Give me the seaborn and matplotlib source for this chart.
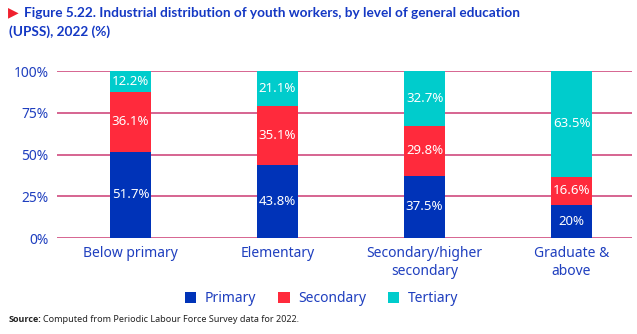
import matplotlib
matplotlib.use("Agg")
import matplotlib.pyplot as plt
import seaborn as sns
import pandas as pd
import numpy as np
from matplotlib.patches import Patch

# Data: share of youth workers by industry sector within each education level (%)
education = ["Below primary", "Elementary", "Secondary/higher\nsecondary", "Graduate &\nabove"]
primary = [51.7, 43.8, 37.5, 20.0]
secondary = [36.1, 35.1, 29.8, 16.6]
tertiary = [12.2, 21.1, 32.7, 63.5]
sector_names = ["Primary", "Secondary", "Tertiary"]
y_ticks = [0, 25, 50, 75, 100]

colors = {"Primary": "#0033b8", "Secondary": "#ff2a3c", "Tertiary": "#00cccc"}
text_blue = "#1f3fbf"
grid_color = "#c2185b"

sns.set_theme(style="white")
plt.rcParams["font.family"] = ["Noto Sans", "DejaVu Sans"]

df = pd.DataFrame({
    "education": education,
    "Primary": primary,
    "Secondary": secondary,
    "Tertiary": tertiary,
})

fig = plt.figure(figsize=(6.37, 3.34), dpi=100)
ax = fig.add_axes([0.0895, 0.287, 0.9025, 0.500])
ax.set_axisbelow(True)

# horizontal grid lines behind the bars
for t in y_ticks:
    ax.axhline(t, color=grid_color, lw=1.1, alpha=0.85, zorder=0.5)

# stacked bars: each segment drawn from its cumulative total
cum_primary = np.array(primary)
cum_secondary = cum_primary + np.array(secondary)
cum_tertiary = cum_secondary + np.array(tertiary)
df["cum_Primary"] = cum_primary
df["cum_Secondary"] = cum_secondary
df["cum_Tertiary"] = cum_tertiary

bar_w = 0.28
for name in ["Tertiary", "Secondary", "Primary"]:
    sns.barplot(data=df, x="education", y="cum_" + name, color=colors[name],
                width=bar_w, saturation=1, ax=ax, zorder=2,
                edgecolor="none", linewidth=0)

# value labels centred inside each segment
bottoms = np.zeros(len(education))
for name, vals in zip(sector_names, [primary, secondary, tertiary]):
    for i, v in enumerate(vals):
        ax.text(i, bottoms[i] + v / 2, f"{v:g}%", ha="center", va="center",
                color="white", fontsize=9.5, zorder=3)
    bottoms = bottoms + np.array(vals)

ax.set_xlim(-0.5, 3.41)
ax.set_ylim(0, 100)
ax.set_yticks(y_ticks)
ax.set_yticklabels([f"{t}%" for t in y_ticks], color=text_blue, fontsize=10)
ax.set_xticks(range(len(education)))
ax.set_xticklabels(education, color=text_blue, fontsize=10, linespacing=1.2)
ax.tick_params(axis="both", length=0)
ax.tick_params(axis="y", pad=6)
ax.tick_params(axis="x", pad=6)
ax.set_xlabel("")
ax.set_ylabel("")
for s in ax.spines.values():
    s.set_visible(False)

# legend
handles = [Patch(facecolor=colors[n], edgecolor="none") for n in sector_names]
leg = fig.legend(handles, sector_names, loc="center", bbox_to_anchor=(0.505, 0.106),
                 ncol=3, frameon=False, fontsize=10, handlelength=0.8,
                 handleheight=0.8, handletextpad=0.6, columnspacing=1.6)
for t in leg.get_texts():
    t.set_color(text_blue)

# title
title_color = "#1438c4"
title_font = ["Lato", "DejaVu Sans"]
fig.text(0.013, 0.962, "\u25B6", color="#f0202e", fontsize=10,
         family=["DejaVu Sans"], va="center", ha="left")
fig.text(0.037, 0.962, "Figure 5.22. Industrial distribution of youth workers, by level of general education",
         color=title_color, fontsize=9.8, fontweight="bold", family=title_font,
         va="center", ha="left")
fig.text(0.014, 0.905, "(UPSS), 2022 (%)",
         color=title_color, fontsize=9.8, fontweight="bold", family=title_font,
         va="center", ha="left")

# source note
fig.text(0.014, 0.043, "Source:", fontsize=6.5, fontweight="bold", color="#222222",
         family=["Open Sans", "DejaVu Sans"], va="center", ha="left")
fig.text(0.068, 0.043, "Computed from Periodic Labour Force Survey data for 2022.",
         fontsize=6.5, color="#222222", va="center", ha="left")

fig.savefig("out.png", dpi=100)
